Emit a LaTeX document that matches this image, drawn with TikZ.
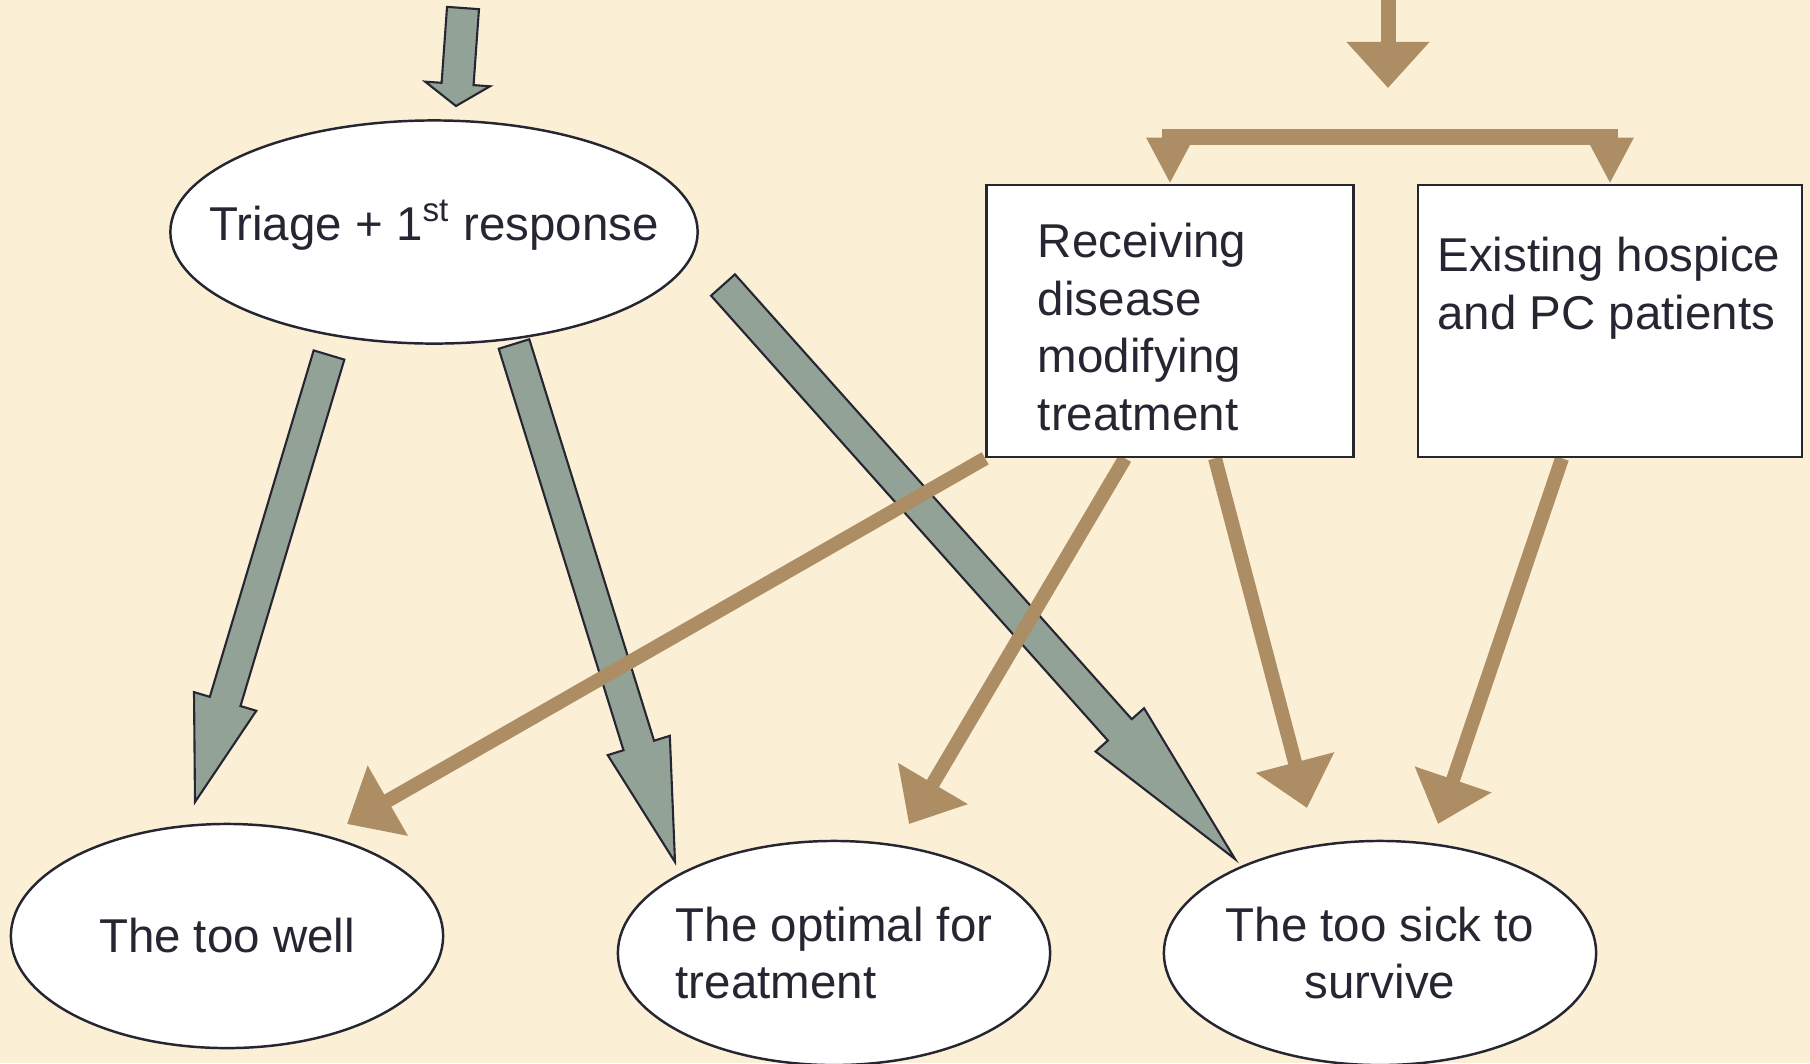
\documentclass[tikz,border=0pt]{standalone}
\usepackage{fontspec}
\setmainfont{Liberation Sans}
\usetikzlibrary{arrows.meta, positioning, shapes, calc}
\definecolor{parch}{RGB}{251,239,214}
\definecolor{mytan}{RGB}{173,141,99}
\definecolor{sage}{RGB}{147,162,151}
\definecolor{ink}{RGB}{38,38,50}
\pgfdeclarelayer{bg}
\pgfsetlayers{bg,main}
% fat outlined arrow from #1 to #2
\newcommand{\blockarrow}[2]{%
  \coordinate (hb) at ($(#2)!0.225!(#1)$);
  \draw[grayarrow] ($(#1)!0.16cm!90:(#2)$) -- ($(hb)!0.16cm!90:(#2)$) -- ($(hb)!0.325cm!90:(#2)$) -- (#2)
    -- ($(hb)!0.325cm!-90:(#2)$) -- ($(hb)!0.16cm!-90:(#2)$) -- ($(#1)!0.16cm!-90:(#2)$) -- cycle;}

\begin{document}
\begin{tikzpicture}[
    x=0.01cm, y=-0.01cm,
    txt/.style={font=\fontsize{13.5pt}{16.4pt}\selectfont, text=ink},
    oval/.style={ellipse, draw=ink, line width=0.7pt, fill=white, inner xsep=-0.6cm, inner ysep=0pt, minimum width=4.32cm, minimum height=2.24cm, txt},
    box/.style={rectangle, draw=ink, line width=0.7pt, fill=white, inner sep=0pt, minimum height=2.72cm, txt},
    grayarrow/.style={draw=ink, line width=0.6pt, fill=sage, line join=miter},
    tanarrow/.style={draw=mytan, line width=0.14cm, -{Triangle[length=0.47cm, width=0.78cm]}}
]
\useasboundingbox (0,0) rectangle (1810,1063);

% Nodes
\node[oval, minimum width=5.27cm, minimum height=2.23cm] (triage) at (434,232) {Triage + 1\textsuperscript{st} response\vphantom{\rule[-0.5em]{0pt}{1em}}};
\node[box, minimum width=3.67cm, text width=2.64cm, align=left] (recv) at (1170,321) {\rule{0pt}{13.2pt}Receiving\\disease\\modifying\\treatment};
\node[box, minimum width=3.84cm] (exist) at (1610,321) {};
\node[txt, anchor=north west, inner sep=0pt, align=left] (existtxt) at ($(exist.north west)+(20,53)$) {Existing hospice\\and PC patients};
\node[oval] (well) at (227,936) {The too well};
\node[oval, align=left] (optimal) at (834,953) {The optimal for\\treatment};
\node[oval, align=center] (sick) at (1380,953) {The too sick to\\survive};

% Free ends
\coordinate (gin) at (463,8);
\coordinate (gintip) at (456,106);
\coordinate (g1) at (329,355);
\coordinate (g1tip) at (195,802);
\coordinate (g2) at (514,344);
\coordinate (g2tip) at (675,862);
\coordinate (g3) at (723,285);
\coordinate (g3tip) at (1235,859);
\coordinate (tin) at (1388,0);
\coordinate (fork) at (1388,88);
\coordinate (bar) at (1388,137);
\coordinate (t1tip) at (347,824);
\coordinate (t2tip) at (909,824);
\coordinate (t3tip) at (1307,808);
\coordinate (t4tip) at (1438,824);

% Edges
\begin{pgfonlayer}{bg}
\fill[parch] (0,0) rectangle (1810,1063);
\blockarrow{gin}{gintip}
\blockarrow{g1}{g1tip}
\blockarrow{g2}{g2tip}
\blockarrow{g3}{g3tip}
\draw[tanarrow, line width=0.15cm, -{Triangle[length=0.46cm, width=0.8cm]}] (tin) -- (fork);
\draw[draw=mytan, line width=0.16cm, {Triangle[length=0.46cm, width=0.44cm]}-{Triangle[length=0.46cm, width=0.44cm]}] (recv.north) |- (bar) -| (exist.north);
\draw[tanarrow] (recv.south west) -- (t1tip);
\draw[tanarrow] ($(recv.south)+(-45,0)$) -- (t2tip);
\draw[tanarrow] ($(recv.south)+(45,0)$) -- (t3tip);
\draw[tanarrow] ($(exist.south)+(-48,0)$) -- (t4tip);
\end{pgfonlayer}

\end{tikzpicture}
\end{document}
